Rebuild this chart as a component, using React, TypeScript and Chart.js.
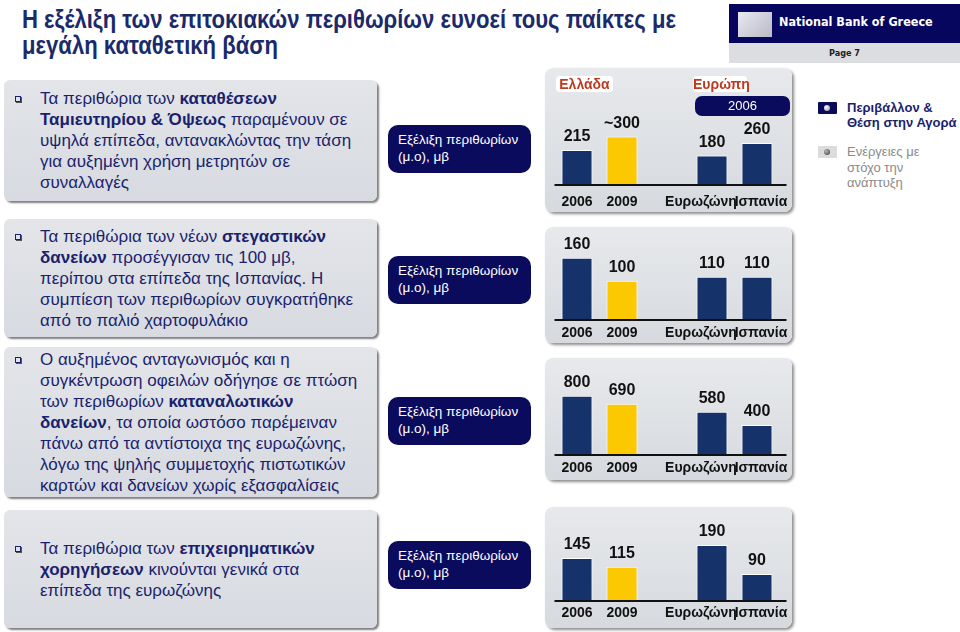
import React, { useEffect, useLayoutEffect, useRef } from "react";
import { Chart, registerables } from "chart.js";
Chart.register(...registerables);

// ---------- data ----------
const categories = ["2006", "2009", "", "Ευρωζώνη", "Ισπανία"];
const depositValues = [215, 300, null, 180, 260];
const depositLabels = ["215", "~300", "", "180", "260"];
const mortgageValues = [160, 100, null, 110, 110];
const mortgageLabels = ["160", "100", "", "110", "110"];
const consumerValues = [800, 690, null, 580, 400];
const consumerLabels = ["800", "690", "", "580", "400"];
const businessValues = [145, 115, null, 190, 90];
const businessLabels = ["145", "115", "", "190", "90"];

// ---------- style ----------
const NAVY = "#15336a";
const YELLOW = "#fcc800";
const DARK = "#0b0b5e";
const TEXT = "#1a1f6e";
const barColors = [NAVY, YELLOW, "rgba(0,0,0,0)", NAVY, NAVY];
const categoryShift = [0, 0, 0, -11, 4];

const FONT = "'Liberation Sans', Arial, sans-serif";
Chart.defaults.font.family = FONT;

const valueLabelPlugin = (texts: string[]) => ({
  id: "valueLabels",
  afterDatasetsDraw(chart: any) {
    const ctx = chart.ctx;
    const meta = chart.getDatasetMeta(0);
    ctx.save();
    ctx.font = `bold 16px ${FONT}`;
    ctx.fillStyle = "#111111";
    ctx.textAlign = "center";
    ctx.textBaseline = "bottom";
    meta.data.forEach((el: any, i: number) => {
      const t = texts[i];
      if (!t) return;
      ctx.fillText(t, el.x, el.y - 5);
    });
    ctx.restore();
  },
});

const axisPlugin = (labelGap: number) => ({
  id: "axisDraw",
  afterDatasetsDraw(chart: any) {
    const { ctx, chartArea } = chart;
    const xScale = chart.scales.x;
    ctx.save();
    ctx.strokeStyle = "#111111";
    ctx.lineWidth = 2;
    ctx.beginPath();
    ctx.moveTo(chartArea.left, chartArea.bottom + 1);
    ctx.lineTo(chartArea.right + 7, chartArea.bottom + 1);
    ctx.stroke();
    ctx.font = `bold 14px ${FONT}`;
    ctx.fillStyle = "#111111";
    ctx.textAlign = "center";
    ctx.textBaseline = "middle";
    categories.forEach((c, i) => {
      if (!c) return;
      ctx.fillText(c, xScale.getPixelForValue(i) + categoryShift[i], chartArea.bottom + labelGap);
    });
    ctx.restore();
  },
});

type PanelProps = {
  values: (number | null)[];
  labels: string[];
  yMax: number;
  labelGap: number;
  left: number;
  top: number;
  width: number;
  height: number;
  bottomPad: number;
};

function BarPanel({ values, labels, yMax, labelGap, left, top, width, height, bottomPad }: PanelProps) {
  const ref = useRef<HTMLCanvasElement>(null);
  useEffect(() => {
    const chart = new Chart(ref.current as HTMLCanvasElement, {
      type: "bar",
      data: {
        labels: categories,
        datasets: [
          {
            data: values as any,
            backgroundColor: barColors,
            borderColor: "#ffffff",
            borderWidth: 1,
            borderSkipped: "bottom",
            barPercentage: 0.69,
            categoryPercentage: 1,
          },
        ],
      },
      options: {
        animation: false,
        responsive: true,
        maintainAspectRatio: false,
        layout: { autoPadding: false, padding: { left: 9.5, right: 12.5, top: 0, bottom: bottomPad } },
        plugins: { legend: { display: false }, tooltip: { enabled: false } },
        scales: {
          x: { display: false, offset: true },
          y: { display: false, min: 0, max: yMax },
        },
      } as any,
      plugins: [valueLabelPlugin(labels), axisPlugin(labelGap)],
    });
    return () => chart.destroy();
  }, []);
  return (
    <div style={{ position: "absolute", left, top, width, height }}>
      <canvas ref={ref} />
    </div>
  );
}

const panelBg: React.CSSProperties = {
  position: "absolute",
  background: "linear-gradient(#e7e9ec, #d6d9de)",
  borderRadius: 8,
  boxShadow: "2px 2px 3px rgba(0,0,0,0.45)",
};

const textBox: React.CSSProperties = {
  position: "absolute",
  left: 4,
  width: 373,
  background: "linear-gradient(#e3e5e9, #d7dae0)",
  borderRadius: 6,
  boxShadow: "2px 2px 2px rgba(0,0,0,0.5)",
  display: "flex",
  flexDirection: "column",
  justifyContent: "center",
  paddingLeft: 36,
  boxSizing: "border-box",
  color: TEXT,
  fontSize: 17,
  lineHeight: "21px",
  whiteSpace: "nowrap",
};

function Bullet() {
  return (
    <span
      style={{
        position: "absolute",
        left: -25,
        top: 8,
        width: 4,
        height: 4,
        border: `1px solid ${TEXT}`,
        boxShadow: "1px 1px 0 #555",
      }}
    />
  );
}

function TextBox({ top, height, lines }: { top: number; height: number; lines: React.ReactNode[] }) {
  return (
    <div style={{ ...textBox, top, height }}>
      {lines.map((l, i) => (
        <div key={i} style={{ position: "relative" }}>
          {i === 0 && <Bullet />}
          {l}
        </div>
      ))}
    </div>
  );
}

function Pill({ top }: { top: number }) {
  return (
    <div
      style={{
        position: "absolute",
        left: 388,
        top,
        width: 143,
        height: 48,
        background: DARK,
        borderRadius: 10,
        color: "#fff",
        fontSize: 13.5,
        lineHeight: "17px",
        paddingLeft: 10,
        paddingTop: 6,
        boxSizing: "border-box",
        whiteSpace: "nowrap",
      }}
    >
      <div>Εξέλιξη περιθωρίων</div>
      <div>(μ.ο), μβ</div>
    </div>
  );
}

const B = ({ children }: { children: React.ReactNode }) => (
  <b style={{ fontWeight: "bold" }}>{children}</b>
);

const badge: React.CSSProperties = {
  position: "absolute",
  top: 76,
  height: 16,
  background: "#fff",
  borderRadius: 4,
  color: "#c0391e",
  fontWeight: "bold",
  fontSize: 14,
  lineHeight: "16px",
  textAlign: "center",
  zIndex: 2,
};

function Title() {
  const ref = useRef<HTMLDivElement>(null);
  useLayoutEffect(() => {
    const el = ref.current;
    if (!el) return;
    const first = el.firstElementChild as HTMLElement;
    const span = first.firstElementChild as HTMLElement;
    const w = span.getBoundingClientRect().width;
    if (w > 0) el.style.transform = `scaleX(${654 / w})`;
  }, []);
  return (
    <div
      ref={ref}
      style={{
        position: "absolute",
        left: 22,
        top: 6,
        color: "#1b2a6b",
        fontFamily: FONT,
        fontWeight: "bold",
        fontSize: 25,
        lineHeight: "26px",
        whiteSpace: "nowrap",
        transformOrigin: "0 0",
      }}
    >
      <div>
        <span>Η εξέλιξη των επιτοκιακών περιθωρίων ευνοεί τους παίκτες με</span>
      </div>
      <div>μεγάλη καταθετική βάση</div>
    </div>
  );
}

export default function App() {
  return (
    <div
      style={{
        position: "fixed",
        left: 0,
        top: 0,
        width: 960,
        height: 632,
        overflow: "hidden",
        background: "#fff",
        fontFamily: FONT,
      }}
    >
      <Title />

      {/* Logo */}
      <div style={{ position: "absolute", left: 729, top: 4, width: 231, height: 39, background: "#06065e", zIndex: 3 }}>
        <div
          style={{
            position: "absolute",
            left: 9,
            top: 8,
            width: 34,
            height: 25,
            background: "linear-gradient(135deg, #e9e9f0, #b9b9c9)",
          }}
        />
        <div
          style={{
            position: "absolute",
            left: 50,
            top: 10,
            color: "#fff",
            fontFamily: "'DejaVu Sans Condensed', 'DejaVu Sans', sans-serif",
            fontWeight: "bold",
            fontSize: 12.5,
            whiteSpace: "nowrap",
          }}
        >
          National Bank of Greece
        </div>
      </div>
      <div
        style={{
          position: "absolute",
          left: 729,
          top: 43,
          width: 231,
          height: 20,
          background: "#dcdde1",
          textAlign: "center",
          fontFamily: "'DejaVu Sans Condensed', 'DejaVu Sans', sans-serif",
          fontWeight: "bold",
          fontSize: 9,
          lineHeight: "20px",
          color: "#222",
          zIndex: 3,
        }}
      >
        Page 7
      </div>

      {/* Text boxes */}
      <TextBox
        top={80}
        height={121}
        lines={[
          <>Τα περιθώρια των <B>καταθέσεων</B></>,
          <><B>Ταμιευτηρίου &amp; Όψεως</B> παραμένουν σε</>,
          <>υψηλά επίπεδα, αντανακλώντας την τάση</>,
          <>για αυξημένη χρήση μετρητών σε</>,
          <>συναλλαγές</>,
        ]}
      />
      <TextBox
        top={219}
        height={118}
        lines={[
          <>Τα περιθώρια των νέων <B>στεγαστικών</B></>,
          <><B>δανείων</B> προσέγγισαν τις 100 μβ,</>,
          <>περίπου στα επίπεδα της Ισπανίας. Η</>,
          <>συμπίεση των περιθωρίων συγκρατήθηκε</>,
          <>από το παλιό χαρτοφυλάκιο</>,
        ]}
      />
      <TextBox
        top={347}
        height={150}
        lines={[
          <>Ο αυξημένος ανταγωνισμός και η</>,
          <>συγκέντρωση οφειλών οδήγησε σε πτώση</>,
          <>των περιθωρίων <B>καταναλωτικών</B></>,
          <><B>δανείων</B>, τα οποία ωστόσο παρέμειναν</>,
          <>πάνω από τα αντίστοιχα της ευρωζώνης,</>,
          <>λόγω της ψηλής συμμετοχής πιστωτικών</>,
          <>καρτών και δανείων χωρίς εξασφαλίσεις</>,
        ]}
      />
      <TextBox
        top={510}
        height={118}
        lines={[
          <>Τα περιθώρια των <B>επιχειρηματικών</B></>,
          <><B>χορηγήσεων</B> κινούνται γενικά στα</>,
          <>επίπεδα της ευρωζώνης</>,
        ]}
      />

      {/* Pills */}
      <Pill top={125} />
      <Pill top={256} />
      <Pill top={397} />
      <Pill top={541} />

      {/* Chart panels backgrounds */}
      <div style={{ ...panelBg, left: 545, top: 68, width: 247, height: 144 }} />
      <div style={{ ...panelBg, left: 545, top: 227, width: 247, height: 116 }} />
      <div style={{ ...panelBg, left: 545, top: 358, width: 247, height: 122 }} />
      <div style={{ ...panelBg, left: 545, top: 507, width: 247, height: 121 }} />

      {/* Charts */}
      <BarPanel values={depositValues} labels={depositLabels} yMax={734} labelGap={18} left={545} top={68} width={247} height={144} bottomPad={28} />
      <BarPanel values={mortgageValues} labels={mortgageLabels} yMax={240} labelGap={14} left={545} top={227} width={247} height={116} bottomPad={24} />
      <BarPanel values={consumerValues} labels={consumerLabels} yMax={1320} labelGap={14} left={545} top={358} width={247} height={122} bottomPad={26} />
      <BarPanel values={businessValues} labels={businessLabels} yMax={321} labelGap={13} left={545} top={507} width={247} height={121} bottomPad={28} />

      {/* Panel 1 badges */}
      <div style={{ ...badge, left: 556, width: 57 }}>Ελλάδα</div>
      <div style={{ ...badge, left: 693, width: 54 }}>Ευρώπη</div>
      <div
        style={{
          position: "absolute",
          left: 695,
          top: 96,
          width: 95,
          height: 20,
          background: DARK,
          borderRadius: 7,
          color: "#fff",
          fontSize: 13,
          lineHeight: "20px",
          textAlign: "center",
          zIndex: 2,
        }}
      >
        2006
      </div>

      {/* Legend */}
      <div
        style={{
          position: "absolute",
          left: 818,
          top: 102,
          width: 19,
          height: 12,
          background: DARK,
          borderRadius: 1,
        }}
      >
        <div
          style={{
            position: "absolute",
            left: 6,
            top: 3,
            width: 6,
            height: 6,
            borderRadius: 3,
            background: "radial-gradient(circle at 35% 35%, #ffffff, #8a8aa0)",
          }}
        />
      </div>
      <div
        style={{
          position: "absolute",
          left: 847,
          top: 100,
          color: TEXT,
          fontWeight: "bold",
          fontSize: 13,
          lineHeight: "15px",
          whiteSpace: "nowrap",
        }}
      >
        <div>Περιβάλλον &amp;</div>
        <div>Θέση στην Αγορά</div>
      </div>
      <div
        style={{
          position: "absolute",
          left: 818,
          top: 146,
          width: 19,
          height: 12,
          background: "#dcdcdc",
          borderRadius: 1,
        }}
      >
        <div
          style={{
            position: "absolute",
            left: 6,
            top: 3,
            width: 6,
            height: 6,
            borderRadius: 3,
            background: "radial-gradient(circle at 35% 35%, #bbbbbb, #333333)",
          }}
        />
      </div>
      <div
        style={{
          position: "absolute",
          left: 847,
          top: 144,
          color: "#8a8a8a",
          fontSize: 13,
          lineHeight: "15.5px",
          whiteSpace: "nowrap",
        }}
      >
        <div>Ενέργειες με</div>
        <div>στόχο την</div>
        <div>ανάπτυξη</div>
      </div>
    </div>
  );
}
